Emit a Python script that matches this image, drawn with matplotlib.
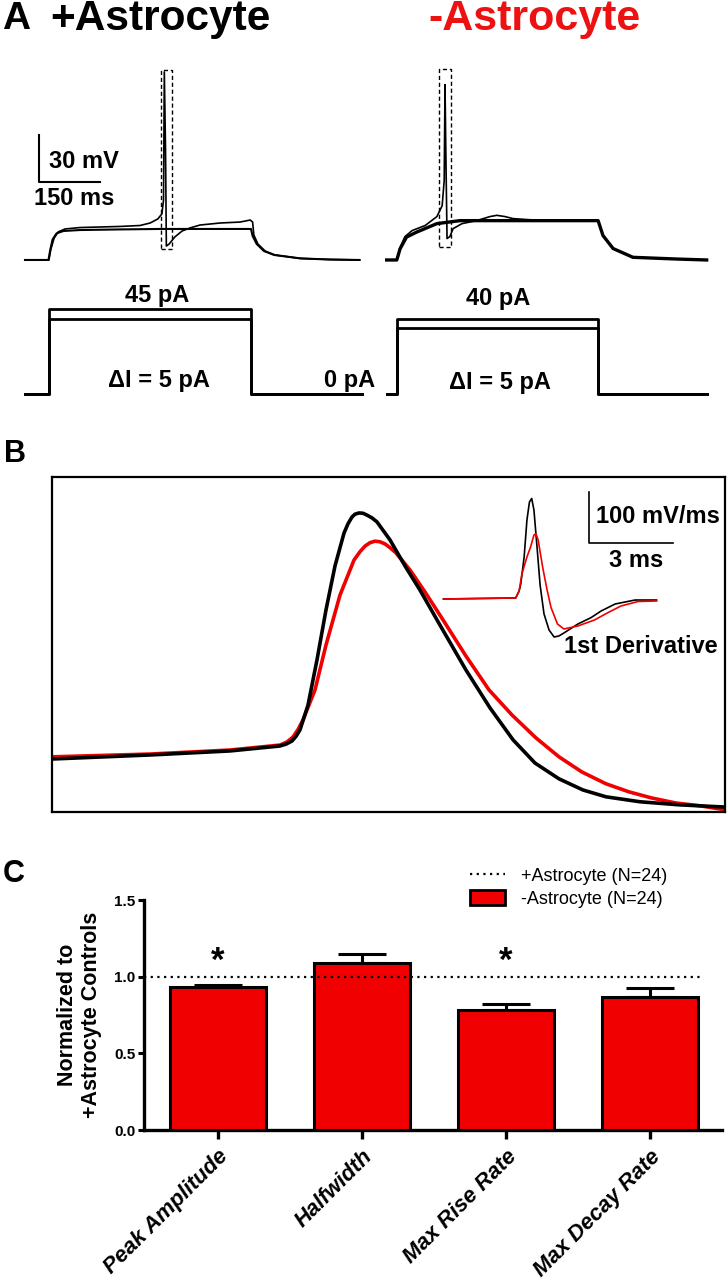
import matplotlib
matplotlib.use("Agg")
import matplotlib.pyplot as plt
from matplotlib.patches import Rectangle, Patch
from matplotlib.lines import Line2D

plt.rcParams['font.family'] = ['Liberation Sans', 'DejaVu Sans']

RED = '#f00000'

# ---- panel A: voltage traces (ms, mV) ----
tL_sub = [0, 58, 62, 68, 78, 95, 135, 235, 335, 430, 530, 558, 562, 572, 590, 615, 680, 750, 825]
vL_sub = [-70, -70, -64, -57, -53, -51.5, -50.9, -50.5, -50.2, -50.2, -50.2, -50.2, -54.7, -59.8,
          -64.3, -66.8, -69, -69.7, -70]
tL_spk = [0, 59, 64, 72, 82, 99, 136, 235, 284, 309, 328, 338, 342, 344, 347, 349, 356, 370, 388, 407,
          432, 482, 531, 556, 562, 565, 575, 593, 617, 679, 753, 827]
vL_spk = [-70, -70, -63, -56, -52.1, -50.2, -49.3, -48.6, -48, -46.4, -43.8, -40.6, -31.7, 50, 0, -61.1,
          -59.8, -55.3, -51.5, -49.6, -47.7, -46.4, -45.8, -44.5, -45.8, -54, -59.8, -64.3, -66.8, -69,
          -69.7, -70]
tR_sub = [0, 25, 33, 49, 74, 124, 181, 280, 522, 534, 559, 608, 716, 790]
vR_sub = [-70, -70, -62.9, -55.4, -52.2, -46.8, -44.9, -44.9, -44.9, -54.4, -62.7, -68.3, -69.4, -70]
tR_spk = [0, 25, 33, 45, 63, 95, 124, 137, 142, 144, 146, 149, 156, 164, 186, 222, 255, 272, 292, 312,
          386, 522, 534, 559, 608, 716, 790]
vR_spk = [-70, -70, -62.1, -55.1, -51.2, -48, -42.3, -35.3, -19.3, 41.9, 0, -56.3, -55.1, -50, -46.8,
          -44.9, -42.3, -41.5, -42.3, -43.6, -44.9, -44.9, -54.4, -62.7, -68.3, -69.4, -70]

# dashed boxes around spikes: t0, t1, v0, v1
boxL = [335, 362, -63, 51.4]
boxR = [129, 158, -61.8, 51.6]

# current steps (pA)
tL_step = [0, 59, 59, 558, 558, 832]
iL_hi = [0, 0, 45, 45, 0, 0]
iL_lo = [0, 0, 40, 40, 0, 0]
tR_step = [0, 25, 25, 522, 522, 790]
iR_hi = [0, 0, 40, 40, 0, 0]
iR_lo = [0, 0, 35, 35, 0, 0]

# ---- panel B: averaged AP (ms, mV) ----
tB_plus = [0, 0.98, 1.78, 2.28, 2.34, 2.40, 2.44, 2.48, 2.56, 2.65, 2.74, 2.83, 2.92, 2.96, 3.00, 3.03,
           3.07, 3.11, 3.15, 3.20, 3.25, 3.38, 3.53, 3.68, 3.88, 4.14, 4.38, 4.61, 4.83, 5.07, 5.31,
           5.54, 5.88, 6.28, 6.73]
vB_plus = [-49.7, -48.4, -47.1, -45.5, -44.9, -43.9, -42.4, -40.3, -32.3, -17.7, -1.6, 12.6, 23.2, 26.2,
           28.4, 29.3, 29.7, 29.6, 29.0, 28.1, 26.8, 21.0, 12.6, 4.8, -6.5, -21.0, -33.2, -43.5, -51.0,
           -56.1, -59.7, -61.9, -63.5, -64.5, -65.2]
tB_minus = [0, 0.98, 1.78, 2.28, 2.35, 2.41, 2.46, 2.51, 2.63, 2.74, 2.88, 3.02, 3.08, 3.13, 3.18, 3.23,
            3.28, 3.33, 3.38, 3.44, 3.58, 3.73, 3.91, 4.14, 4.37, 4.60, 4.84, 5.07, 5.30, 5.54, 5.77,
            6.00, 6.24, 6.48, 6.73]
vB_minus = [-49.0, -48.1, -46.8, -45.2, -44.2, -42.6, -40.2, -37.1, -27.4, -12.9, 3.2, 14.5, 17.2, 19.0,
            20.1, 20.6, 20.4, 19.7, 18.5, 16.8, 11.3, 4.2, -4.8, -16.5, -27.4, -35.5, -42.9, -49.0,
            -53.9, -57.7, -60.3, -62.3, -63.9, -64.8, -66.1]

# inset: first derivative (ms, mV/ms)
tD_plus = [0, 1.30, 2.58, 2.70, 2.76, 2.88, 2.98, 3.07, 3.15, 3.23, 3.34, 3.45, 3.59, 3.77, 3.95, 4.12,
           4.30, 4.80, 5.27, 5.63, 6.13, 6.84, 7.61]
dD_plus = [0, 1, 2, 15.7, 29.4, 82.4, 154.9, 190.2, 197.1, 174.5, 102, 27.5, -29.4, -60.8, -74.5, -72.5,
           -66.7, -49.0, -36.5, -23.5, -9.8, -2, -2]
tD_minus = [0, 1.30, 2.58, 2.70, 2.80, 2.98, 3.11, 3.23, 3.30, 3.38, 3.54, 3.70, 3.84, 4.07, 4.30, 4.80,
            5.39, 5.88, 6.34, 6.95, 7.61]
dD_minus = [0, 1, 2, 15.7, 49, 82.4, 102, 125.5, 128, 115.7, 62.7, 17.6, -16.7, -49, -58.8, -52.9, -41.2,
            -26.5, -13.7, -4.9, -3.9]

# ---- panel C: normalized AP parameters ----
categories = ['Peak Amplitude', 'Halfwidth', 'Max Rise Rate', 'Max Decay Rate']
values = [0.93, 1.09, 0.78, 0.87]
sem = [0.015, 0.06, 0.045, 0.055]
significant = [True, False, True, False]


def rect(x0, y0, x1, y1):
    # figure-pixel box -> figure fraction
    return [x0 / 727, 1 - y1 / 1280, (x1 - x0) / 727, (y1 - y0) / 1280]


fig = plt.figure(figsize=(7.27, 12.8), dpi=100)

# ===== Panel A =====
axVL = fig.add_axes(rect(0, 40, 380, 270))
axVR = fig.add_axes(rect(380, 40, 727, 270))
axIL = fig.add_axes(rect(0, 280, 380, 410))
axIR = fig.add_axes(rect(380, 280, 727, 410))
for a in (axVL, axVR, axIL, axIR):
    a.axis('off')
axVL.set_xlim(-61.7, 876.5)
axIL.set_xlim(-61.7, 876.5)
axVR.set_xlim(-16.5, 840.2)
axIR.set_xlim(-16.5, 840.2)
for a in (axVL, axVR):
    a.set_ylim(-76.4, 70.4)
for a in (axIL, axIR):
    a.set_ylim(-8.2, 60.3)

axVL.plot(tL_sub, vL_sub, color='k', lw=1.5)
axVL.plot(tL_spk, vL_spk, color='k', lw=1.2)
axVR.plot(tR_sub, vR_sub, color='k', lw=2.4)
axVR.plot(tR_spk, vR_spk, color='k', lw=1.2)
for a, b in ((axVL, boxL), (axVR, boxR)):
    a.add_patch(Rectangle((b[0], b[2]), b[1] - b[0], b[3] - b[2], fill=False,
                          ec='k', lw=1.0, ls=(0, (3, 2))))

# scale bar
axVL.plot([34, 34, 184], [10, -20, -20], color='k', lw=1.5)
axVL.text(59, -7.2, '30 mV', fontsize=17, fontweight='bold', ha='left', va='center')
axVL.text(121, -30.8, '150 ms', fontsize=17, fontweight='bold', ha='center', va='center')

axIL.plot(tL_step, iL_hi, color='k', lw=2)
axIL.plot(tL_step, iL_lo, color='k', lw=2)
axIR.plot(tR_step, iR_hi, color='k', lw=2)
axIR.plot(tR_step, iR_lo, color='k', lw=2)
axIL.text(325, 52, '45 pA', fontsize=17, fontweight='bold', ha='center', va='center')
axIL.text(331, 7.4, 'ΔI = 5 pA', fontsize=17, fontweight='bold', ha='center', va='center')
axIL.text(802, 7.6, '0 pA', fontsize=17, fontweight='bold', ha='center', va='center')
axIR.text(275, 50.4, '40 pA', fontsize=17, fontweight='bold', ha='center', va='center')
axIR.text(280, 6.2, 'ΔI = 5 pA', fontsize=17, fontweight='bold', ha='center', va='center')

fig.text(2 / 727, 1 - 19 / 1280, 'A', fontsize=28, fontweight='bold', ha='left', va='center')
fig.text(50 / 727, 1 - 19 / 1280, '+Astrocyte', fontsize=30.5, fontweight='bold', ha='left', va='center')
fig.text(428 / 727, 1 - 19 / 1280, '-Astrocyte', fontsize=31, fontweight='bold', ha='left',
         va='center', color='#ee1111')

# ===== Panel B =====
axB = fig.add_axes(rect(52, 477, 725, 812))
axB.plot(tB_minus, vB_minus, color=RED, lw=2.6)
axB.plot(tB_plus, vB_plus, color='k', lw=2.6)
axB.set_xlim(0, 6.73)
axB.set_ylim(-66.8, 41.3)
axB.set_xticks([])
axB.set_yticks([])
for s in axB.spines.values():
    s.set_linewidth(1.6)

axD = fig.add_axes(rect(440, 485, 720, 660))
axD.axis('off')
axD.set_xlim(-0.125, 9.875)
axD.set_ylim(-119.6, 223.5)
axD.plot(tD_plus, dD_plus, color='k', lw=1.2)
axD.plot(tD_minus, dD_minus, color=RED, lw=1.2)
axD.plot([5.21, 5.21, 8.21], [210.4, 110.4, 110.4], color='k', lw=1.2)
axD.text(5.45, 160.8, '100 mV/ms', fontsize=17, fontweight='bold', ha='left', va='center')
axD.text(6.89, 75.5, '3 ms', fontsize=17, fontweight='bold', ha='center', va='center')
axD.text(4.30, -93.5, '1st Derivative', fontsize=17, fontweight='bold', ha='left', va='center')

fig.text(4 / 727, 1 - 454 / 1280, 'B', fontsize=22, fontweight='bold', ha='left', va='center')

# ===== Panel C =====
axC = fig.add_axes(rect(144, 900, 722, 1130))
x = list(range(len(categories)))
axC.errorbar(x, values, yerr=[[0] * len(sem), sem], fmt='none', ecolor='k', elinewidth=2.2,
             capsize=17, capthick=2.2, zorder=2)
axC.bar(x, values, width=0.67, color=RED, edgecolor='k', linewidth=2.2, zorder=3)
axC.axhline(1.0, xmin=0, xmax=0.964, color='k', lw=1.6, ls=(0, (1, 2)), zorder=4)
for i, sig in enumerate(significant):
    if sig:
        axC.text(i, 1.10, '*', fontsize=25, fontweight='bold', ha='center', va='center')

axC.set_xlim(-0.514, 3.5)
axC.set_ylim(0, 1.5)
axC.spines['top'].set_visible(False)
axC.spines['right'].set_visible(False)
for s in ('left', 'bottom'):
    axC.spines[s].set_linewidth(2.4)
axC.set_yticks([0, 0.5, 1.0, 1.5])
axC.set_yticklabels(['0.0', '0.5', '1.0', '1.5'], fontsize=11, fontweight='bold')
axC.tick_params(axis='y', length=4, width=2.2, pad=2)
axC.set_xticks(x)
axC.set_xticklabels(categories, rotation=45, ha='right', rotation_mode='anchor', fontsize=16,
                    fontweight='bold', fontstyle='italic')
axC.tick_params(axis='x', length=6.5, width=2.4, pad=5)
axC.set_ylabel('Normalized to\n+Astrocyte Controls', fontsize=15.5, fontweight='bold', va='center',
               multialignment='center')
axC.yaxis.set_label_coords(-0.111, 0.5)

handles = [Line2D([], [], color='k', lw=1.6, ls=(0, (1, 2))),
           Patch(facecolor=RED, edgecolor='k', linewidth=2)]
axC.legend(handles, ['+Astrocyte (N=24)', '-Astrocyte (N=24)'], loc='upper left',
           bbox_to_anchor=(470 / 727, 1 - 867 / 1280), bbox_transform=fig.transFigure,
           frameon=False, fontsize=13, handlelength=1.95, handleheight=0.9, handletextpad=0.9,
           labelspacing=0.3, borderpad=0, borderaxespad=0)

fig.text(3 / 727, 1 - 874 / 1280, 'C', fontsize=22, fontweight='bold', ha='left', va='center')

fig.savefig('out.png', dpi=100)
